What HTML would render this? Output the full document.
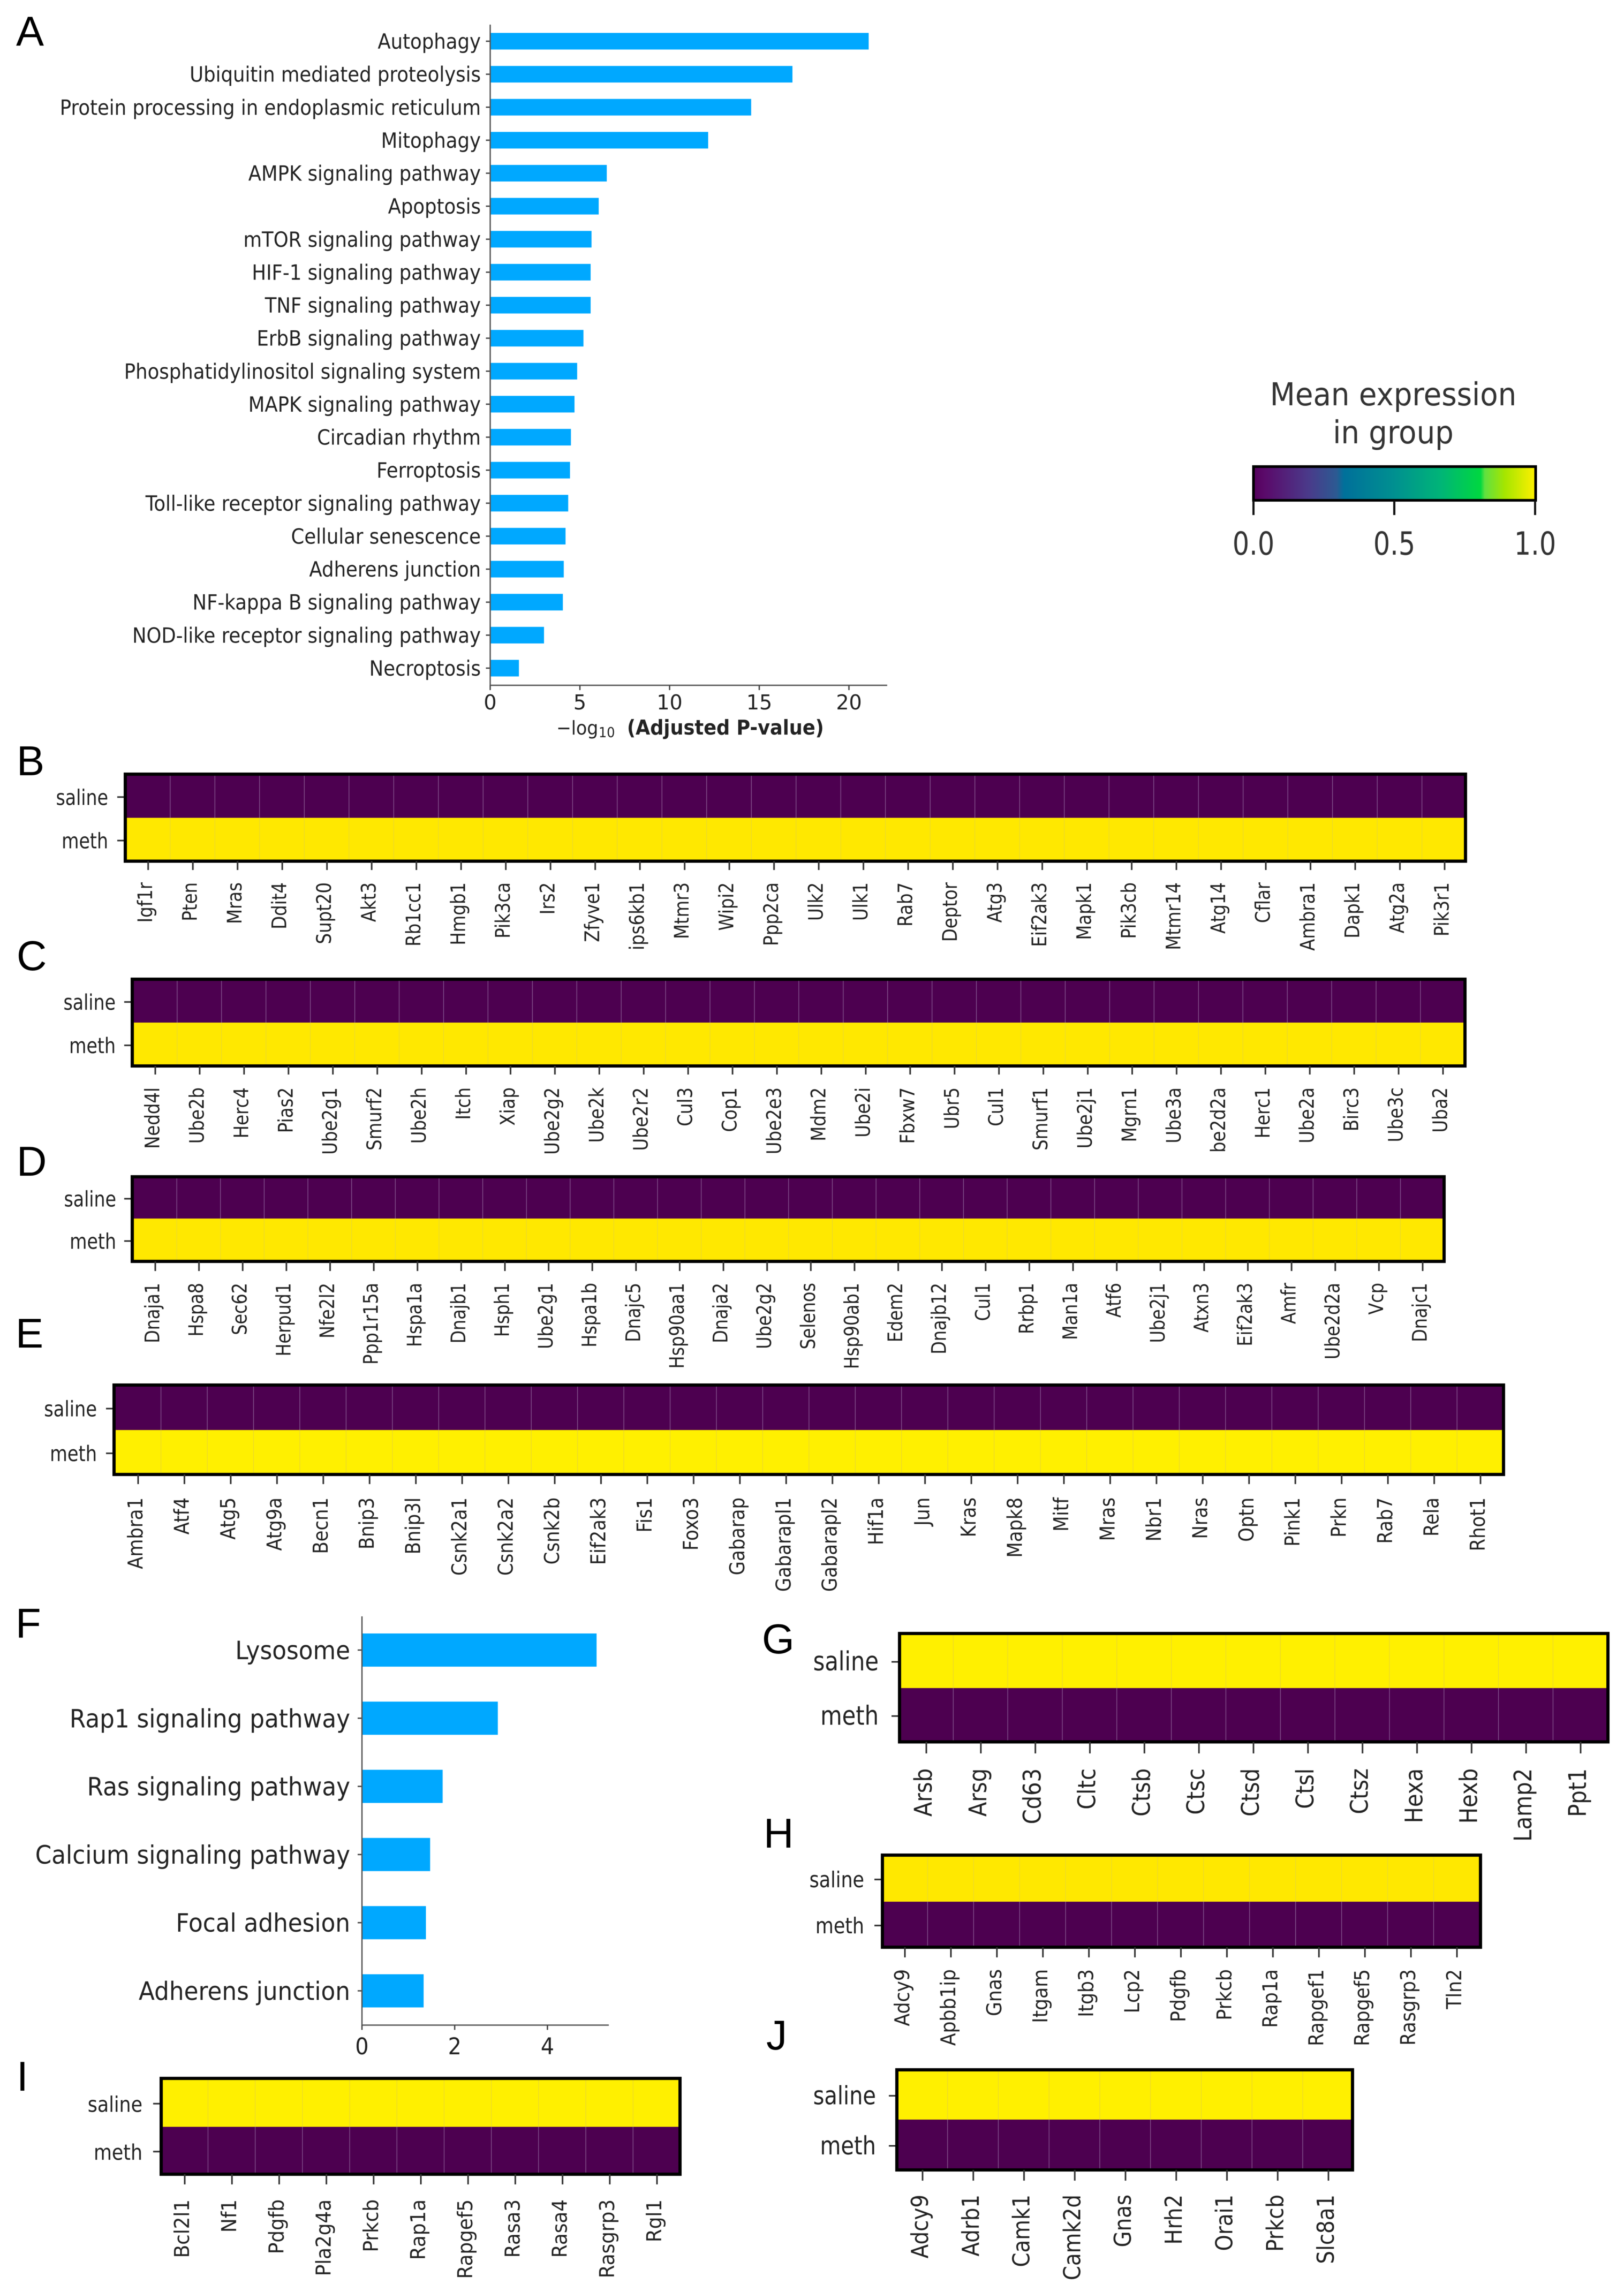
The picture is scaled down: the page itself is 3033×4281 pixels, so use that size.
<!DOCTYPE html>
<html lang="en">
<head>
<meta charset="utf-8">
<title>Pathway enrichment and gene expression heatmaps</title>
<style>
html,body{margin:0;padding:0;background:#fff;}
body{width:3033px;height:4281px;overflow:hidden;}
#figure{display:block;filter:blur(0.7px);}
text{font-family:"DejaVu Sans","Liberation Sans",sans-serif;fill:#222;}
.letter{font-family:"Liberation Sans",sans-serif;font-size:78px;fill:#000;}
</style>
</head>
<body>
<svg id="figure" xmlns="http://www.w3.org/2000/svg" width="3033" height="4281" viewBox="0 0 3033 4281">
  <defs>
    <linearGradient id="viridis-like" x1="0" x2="1" y1="0" y2="0">
      <stop offset="0" stop-color="#55005c"/>
      <stop offset="0.04" stop-color="#5a0a6a"/>
      <stop offset="0.195" stop-color="#4a3a8a"/>
      <stop offset="0.295" stop-color="#2c5a92"/>
      <stop offset="0.32" stop-color="#00709a"/>
      <stop offset="0.5" stop-color="#009090"/>
      <stop offset="0.66" stop-color="#00b478"/>
      <stop offset="0.805" stop-color="#00d840"/>
      <stop offset="0.82" stop-color="#60e040"/>
      <stop offset="0.89" stop-color="#a5e500"/>
      <stop offset="1" stop-color="#fff000"/>
    </linearGradient>
  </defs>
  <rect x="0" y="0" width="3033" height="4281" fill="#fff"/>

  <text class="letter" x="30" y="85">A</text>
  <text class="letter" x="31" y="1448">B</text>
  <text class="letter" x="31" y="1812">C</text>
  <text class="letter" x="31" y="2196">D</text>
  <text class="letter" x="29" y="2517">E</text>
  <text class="letter" x="29" y="3059">F</text>
  <text class="letter" x="1423" y="3088">G</text>
  <text class="letter" x="1426" y="3451">H</text>
  <text class="letter" x="31" y="3905">I</text>
  <text class="letter" x="1431" y="3828">J</text>

  <g id="panel-a"></g>
  <g id="panel-f"></g>
  <g id="panel-b"></g>
  <g id="panel-c"></g>
  <g id="panel-d"></g>
  <g id="panel-e"></g>
  <g id="panel-g"></g>
  <g id="panel-h"></g>
  <g id="panel-i"></g>
  <g id="panel-j"></g>

  <g>
    <text transform="translate(2602,757) scale(0.925,1)" text-anchor="middle" font-size="59" style="fill:#333">Mean expression</text>
    <text transform="translate(2602,828) scale(0.925,1)" text-anchor="middle" font-size="59" style="fill:#333">in group</text>
    <rect x="2341" y="871.5" width="527" height="63" fill="url(#viridis-like)" stroke="#000" stroke-width="5"/>
    <g id="colorbar-axis"></g>
  </g>
</svg>

<script>
// ---------- Panel A data ----------
const barACategories = ["Autophagy","Ubiquitin mediated proteolysis","Protein processing in endoplasmic reticulum","Mitophagy","AMPK signaling pathway","Apoptosis","mTOR signaling pathway","HIF-1 signaling pathway","TNF signaling pathway","ErbB signaling pathway","Phosphatidylinositol signaling system","MAPK signaling pathway","Circadian rhythm","Ferroptosis","Toll-like receptor signaling pathway","Cellular senescence","Adherens junction","NF-kappa B signaling pathway","NOD-like receptor signaling pathway","Necroptosis"];
const barAValues = [21.1,16.85,14.55,12.15,6.5,6.05,5.65,5.6,5.6,5.2,4.85,4.7,4.5,4.45,4.35,4.2,4.1,4.05,3.0,1.6];
const barATicks = [0,5,10,15,20];

// ---------- Panel F data ----------
const barFCategories = ["Lysosome","Rap1 signaling pathway","Ras signaling pathway","Calcium signaling pathway","Focal adhesion","Adherens junction"];
const barFValues = [5.06,2.93,1.74,1.47,1.38,1.33];
const barFTicks = [0,2,4];

// ---------- Heatmap data ----------
const heatRows = ["saline","meth"];
const colorbarTicks = [0,0.5,1];
const colorbarTickLabels = ["0.0","0.5","1.0"];

const genesB = ["Igf1r","Pten","Mras","Ddit4","Supt20","Akt3","Rb1cc1","Hmgb1","Pik3ca","Irs2","Zfyve1","ips6kb1","Mtmr3","Wipi2","Ppp2ca","Ulk2","Ulk1","Rab7","Deptor","Atg3","Eif2ak3","Mapk1","Pik3cb","Mtmr14","Atg14","Cflar","Ambra1","Dapk1","Atg2a","Pik3r1"];
const salineB = [0,0,0,0,0,0,0,0,0,0,0,0,0,0,0,0,0,0,0,0,0,0,0,0,0,0,0,0,0,0];
const methB = [1,1,1,1,1,1,1,1,1,1,1,1,1,1,1,1,1,1,1,1,1,1,1,1,1,1,1,1,1,1];

const genesC = ["Nedd4l","Ube2b","Herc4","Pias2","Ube2g1","Smurf2","Ube2h","Itch","Xiap","Ube2g2","Ube2k","Ube2r2","Cul3","Cop1","Ube2e3","Mdm2","Ube2i","Fbxw7","Ubr5","Cul1","Smurf1","Ube2j1","Mgrn1","Ube3a","be2d2a","Herc1","Ube2a","Birc3","Ube3c","Uba2"];
const salineC = [0,0,0,0,0,0,0,0,0,0,0,0,0,0,0,0,0,0,0,0,0,0,0,0,0,0,0,0,0,0];
const methC = [1,1,1,1,1,1,1,1,1,1,1,1,1,1,1,1,1,1,1,1,1,1,1,1,1,1,1,1,1,1];

const genesD = ["Dnaja1","Hspa8","Sec62","Herpud1","Nfe2l2","Ppp1r15a","Hspa1a","Dnajb1","Hsph1","Ube2g1","Hspa1b","Dnajc5","Hsp90aa1","Dnaja2","Ube2g2","Selenos","Hsp90ab1","Edem2","Dnajb12","Cul1","Rrbp1","Man1a","Atf6","Ube2j1","Atxn3","Eif2ak3","Amfr","Ube2d2a","Vcp","Dnajc1"];
const salineD = [0,0,0,0,0,0,0,0,0,0,0,0,0,0,0,0,0,0,0,0,0,0,0,0,0,0,0,0,0,0];
const methD = [1,1,1,1,1,1,1,1,1,1,1,1,1,1,1,1,1,1,1,1,1,1,1,1,1,1,1,1,1,1];

const genesE = ["Ambra1","Atf4","Atg5","Atg9a","Becn1","Bnip3","Bnip3l","Csnk2a1","Csnk2a2","Csnk2b","Eif2ak3","Fis1","Foxo3","Gabarap","Gabarapl1","Gabarapl2","Hif1a","Jun","Kras","Mapk8","Mitf","Mras","Nbr1","Nras","Optn","Pink1","Prkn","Rab7","Rela","Rhot1"];
const salineE = [0,0,0,0,0,0,0,0,0,0,0,0,0,0,0,0,0,0,0,0,0,0,0,0,0,0,0,0,0,0];
const methE = [1,1,1,1,1,1,1,1,1,1,1,1,1,1,1,1,1,1,1,1,1,1,1,1,1,1,1,1,1,1];

const genesG = ["Arsb","Arsg","Cd63","Cltc","Ctsb","Ctsc","Ctsd","Ctsl","Ctsz","Hexa","Hexb","Lamp2","Ppt1"];
const salineG = [1,1,1,1,1,1,1,1,1,1,1,1,1];
const methG = [0,0,0,0,0,0,0,0,0,0,0,0,0];

const genesH = ["Adcy9","Apbb1ip","Gnas","Itgam","Itgb3","Lcp2","Pdgfb","Prkcb","Rap1a","Rapgef1","Rapgef5","Rasgrp3","Tln2"];
const salineH = [1,1,1,1,1,1,1,1,1,1,1,1,1];
const methH = [0,0,0,0,0,0,0,0,0,0,0,0,0];

const genesI = ["Bcl2l1","Nf1","Pdgfb","Pla2g4a","Prkcb","Rap1a","Rapgef5","Rasa3","Rasa4","Rasgrp3","Rgl1"];
const salineI = [1,1,1,1,1,1,1,1,1,1,1];
const methI = [0,0,0,0,0,0,0,0,0,0,0];

const genesJ = ["Adcy9","Adrb1","Camk1","Camk2d","Gnas","Hrh2","Orai1","Prkcb","Slc8a1"];
const salineJ = [1,1,1,1,1,1,1,1,1];
const methJ = [0,0,0,0,0,0,0,0,0];

// ---------- Helpers ----------
const NS = "http://www.w3.org/2000/svg";

function node(parent, tag, attrs) {
  const el = document.createElementNS(NS, tag);
  for (const k in attrs) el.setAttribute(k, attrs[k]);
  parent.appendChild(el);
  return el;
}
function label(parent, str, x, y, size, anchor, sx, rot, weight) {
  const t = (rot ? `translate(${x},${y}) rotate(-90) scale(${sx},1)` : `translate(${x},${y}) scale(${sx},1)`);
  const el = node(parent, "text", {transform: t, "font-size": size, "text-anchor": anchor});
  if (weight) el.setAttribute("font-weight", weight);
  el.textContent = str;
  return el;
}
// value (0..1) -> heat colour, between dark purple and the panel's yellow
function heatColor(v, hi) {
  const lo = [77, 0, 80];
  const c = lo.map((l, i) => Math.round(l + (hi[i] - l) * v));
  return `rgb(${c[0]},${c[1]},${c[2]})`;
}

// ---------- Horizontal bar charts ----------
function drawBarChart(cfg) {
  const g = document.getElementById(cfg.id);
  const xScale = v => cfg.x0 + v * cfg.unit;
  const yScale = i => cfg.yFirst + i * cfg.yStep;

  cfg.categories.forEach((name, i) => {
    const bar = node(g, "rect", {x: xScale(0), y: yScale(i) - cfg.barH / 2, width: xScale(cfg.values[i]) - xScale(0), height: cfg.barH, fill: "#00a8ff"});
    
    

    const tick = node(g, "line", {x1: cfg.x0 - 8, x2: cfg.x0, y1: yScale(i), y2: yScale(i), stroke: "#444", "stroke-width": 2.5});
    
    

    const txt = label(g, name, cfg.labelRight, yScale(i) + cfg.labelDy, cfg.labelSize, "end", cfg.labelSx);
    
    
  });

  const yAxis = node(g, "line", {x1: cfg.x0, x2: cfg.x0, y1: cfg.yTop, y2: cfg.yBottom, stroke: "#555", "stroke-width": 2.5});
  
  

  const xAxis = node(g, "line", {x1: cfg.x0, x2: cfg.xEnd, y1: cfg.yBottom, y2: cfg.yBottom, stroke: "#555", "stroke-width": 2.5});
  
  

  cfg.ticks.forEach(v => {
    const tk = node(g, "line", {x1: xScale(v), x2: xScale(v), y1: cfg.yBottom, y2: cfg.yBottom + 9, stroke: "#444", "stroke-width": 2.5});
    
    

    const tl = label(g, String(v), xScale(v), cfg.tickBase, cfg.tickSize, "middle", cfg.tickSx);
    
    
  });
}

drawBarChart({id: "panel-a", categories: barACategories, values: barAValues, ticks: barATicks,
  x0: 915.5, unit: 33.5, xEnd: 1657, yFirst: 77, yStep: 61.63, barH: 31, yTop: 46, yBottom: 1280,
  labelRight: 898, labelDy: 14, labelSize: 39, labelSx: 0.91, tickBase: 1325, tickSize: 38, tickSx: 1});

drawBarChart({id: "panel-f", categories: barFCategories, values: barFValues, ticks: barFTicks,
  x0: 676, unit: 86.6, xEnd: 1137, yFirst: 3082, yStep: 127.3, barH: 62, yTop: 3019, yBottom: 3782.5,
  labelRight: 654, labelDy: 17, labelSize: 47, labelSx: 0.93, tickBase: 3837, tickSize: 43, tickSx: 0.92});

// Panel A x-axis title
const panelA = document.getElementById("panel-a");
const titleMinus = label(panelA, "\u2212log", 1039, 1372, 36, "start", 0.92);


const titleSub = label(panelA, "10", 1118, 1377, 26, "start", 0.92);


const titleBold = label(panelA, "(Adjusted P-value)", 1171, 1372, 38, "start", 0.925, false, "bold");



// ---------- Heatmaps ----------
function drawHeatmap(cfg) {
  const g = document.getElementById(cfg.id);
  const n = cfg.genes.length;
  const step = (cfg.tickLast - cfg.tickFirst) / (n - 1);
  const xCenter = i => cfg.tickFirst + i * step;
  const yEdge = [cfg.top, cfg.mid, cfg.bottom];
  const yCenter = r => (yEdge[r] + yEdge[r + 1]) / 2;
  const rowValues = [cfg.saline, cfg.meth];
  const clipLeft = cfg.left, clipRight = cfg.right;

  heatRows.forEach((rowName, r) => {
    cfg.genes.forEach((gene, i) => {
      const x1 = Math.max(clipLeft, xCenter(i) - step / 2);
      const x2 = Math.min(clipRight, xCenter(i) + step / 2);
      const xa = i === 0 ? clipLeft : x1;
      const xb = i === n - 1 ? clipRight : x2;
      const v = rowValues[r][i];
      const cell = node(g, "rect", {x: xa, y: yEdge[r], width: xb - xa, height: yEdge[r + 1] - yEdge[r], fill: heatColor(v, cfg.hi)});
      
      

      if (i < n - 1) {
        const sep = node(g, "line", {x1: xb, x2: xb, y1: yEdge[r], y2: yEdge[r + 1], stroke: v > 0.5 ? "#ecd92a" : "#85558f", "stroke-width": 2.5});
        
        
      }
    });

    const ty = yCenter(r) + 2;
    const rt = node(g, "line", {x1: cfg.left - 15, x2: cfg.left, y1: ty, y2: ty, stroke: "#333", "stroke-width": 3});
    
    

    const rl = label(g, rowName, cfg.rowRight, ty + cfg.rowDy, cfg.rowSize, "end", cfg.rowSx);
    
    
  });

  const frame = node(g, "rect", {x: cfg.left, y: cfg.top, width: cfg.right - cfg.left, height: cfg.bottom - cfg.top, fill: "none", stroke: "#000", "stroke-width": 6});
  
  

  cfg.genes.forEach((gene, i) => {
    const tk = node(g, "line", {x1: xCenter(i), x2: xCenter(i), y1: cfg.bottom, y2: cfg.tickBottom, stroke: "#333", "stroke-width": 3});
    
    

    const gl = label(g, gene, xCenter(i) + cfg.geneDx, cfg.geneTop, cfg.geneSize, "end", cfg.geneSx, true);
    
    
  });
}

const yellowDeep = [255, 232, 0];
const yellowBright = [255, 240, 0];

drawHeatmap({id:"panel-b", genes:genesB, saline:salineB, meth:methB, hi:yellowDeep, left:234, right:2737, top:1446, mid:1527.5, bottom:1608.5, tickFirst:276.7, tickLast:2698, tickBottom:1625, rowRight:202, rowDy:14.5, rowSize:40, rowSx:0.83, geneTop:1648, geneDx:7.5, geneSize:37, geneSx:0.875});
drawHeatmap({id:"panel-c", genes:genesC, saline:salineC, meth:methC, hi:yellowDeep, left:247, right:2736, top:1829, mid:1910, bottom:1991, tickFirst:290, tickLast:2695, tickBottom:2007, rowRight:216, rowDy:14.5, rowSize:40, rowSx:0.83, geneTop:2031, geneDx:7.5, geneSize:37, geneSx:0.875});
drawHeatmap({id:"panel-d", genes:genesD, saline:salineD, meth:methD, hi:yellowDeep, left:247, right:2697, top:2198, mid:2276, bottom:2356, tickFirst:290, tickLast:2657, tickBottom:2374, rowRight:217, rowDy:14.5, rowSize:40, rowSx:0.83, geneTop:2396, geneDx:7.5, geneSize:37, geneSx:0.86});
drawHeatmap({id:"panel-e", genes:genesE, saline:salineE, meth:methE, hi:yellowBright, left:213, right:2808, top:2587, mid:2671, bottom:2754, tickFirst:258, tickLast:2765, tickBottom:2772, rowRight:181, rowDy:14.5, rowSize:40, rowSx:0.84, geneTop:2797, geneDx:8, geneSize:38, geneSx:0.89});
drawHeatmap({id:"panel-g", genes:genesG, saline:salineG, meth:methG, hi:yellowBright, left:1680, right:3003, top:3051, mid:3153, bottom:3253.5, tickFirst:1730, tickLast:2952, tickBottom:3275, rowRight:1641, rowDy:16, rowSize:49, rowSx:0.85, geneTop:3303, geneDx:10, geneSize:45, geneSx:0.89});
drawHeatmap({id:"panel-h", genes:genesH, saline:salineH, meth:methH, hi:yellowDeep, left:1648, right:2765, top:3465, mid:3552, bottom:3637, tickFirst:1690, tickLast:2721, tickBottom:3656, rowRight:1614, rowDy:14.5, rowSize:41, rowSx:0.85, geneTop:3678, geneDx:8, geneSize:38, geneSx:0.91});
drawHeatmap({id:"panel-i", genes:genesI, saline:salineI, meth:methI, hi:yellowBright, left:301, right:1270, top:3882, mid:3972.5, bottom:4061, tickFirst:345, tickLast:1227, tickBottom:4080, rowRight:266, rowDy:15, rowSize:40, rowSx:0.87, geneTop:4108, geneDx:8, geneSize:38, geneSx:0.94});
drawHeatmap({id:"panel-j", genes:genesJ, saline:salineJ, meth:methJ, hi:yellowBright, left:1675, right:2526, top:3866, mid:3959, bottom:4053, tickFirst:1723, tickLast:2481, tickBottom:4073, rowRight:1636, rowDy:16, rowSize:47, rowSx:0.85, geneTop:4099, geneDx:10, geneSize:44, geneSx:0.88});

// ---------- Colorbar axis ----------
const cbAxis = document.getElementById("colorbar-axis");
const cbScale = v => 2341 + v * 526;
colorbarTicks.forEach((v, i) => {
  const tk = node(cbAxis, "line", {x1: cbScale(v), x2: cbScale(v), y1: 935, y2: 962, stroke: "#111", "stroke-width": 4});
  
  

  const tl = label(cbAxis, colorbarTickLabels[i], cbScale(v), 1036, 60, "middle", 0.82);
  tl.style.fill = "#333";
  
  
});
</script>
</body>
</html>
